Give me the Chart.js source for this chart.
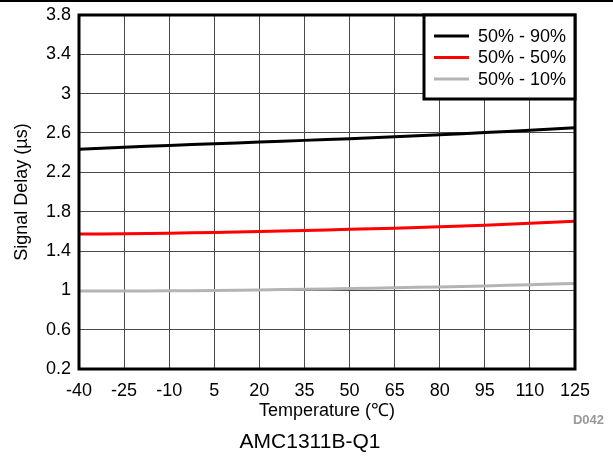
<!DOCTYPE html>
<html>
<head>
<meta charset="utf-8">
<script src="https://cdn.jsdelivr.net/npm/chart.js@4/dist/chart.umd.min.js"></script>
<style>
  html, body { margin: 0; padding: 0; background: #fff; }
  #wrap { width: 613px; height: 456px; }
</style>
</head>
<body>
<div id="wrap"><canvas id="delayChart" width="613" height="456"></canvas></div>
<script>
// data
const temperatures = [-40, -25, -10, 5, 20, 35, 50, 65, 80, 95, 110, 125];
const delay90 = [2.434, 2.455, 2.474, 2.491, 2.508, 2.525, 2.542, 2.562, 2.583, 2.604, 2.628, 2.654];
const delay50 = [1.572, 1.576, 1.581, 1.589, 1.598, 1.608, 1.62, 1.632, 1.646, 1.662, 1.682, 1.703];
const delay10 = [0.992, 0.993, 0.995, 0.999, 1.004, 1.011, 1.018, 1.026, 1.035, 1.045, 1.057, 1.07];
const seriesLabels = ['50% - 90%', '50% - 50%', '50% - 10%'];
const seriesColors = ['#000000', '#ff0000', '#b4b4b4'];
const xTicks = [-40, -25, -10, 5, 20, 35, 50, 65, 80, 95, 110, 125];
const yTicks = [0.2, 0.6, 1, 1.4, 1.8, 2.2, 2.6, 3, 3.4, 3.8];

const FONT = "'Liberation Sans', Arial, sans-serif";
Chart.defaults.font.family = FONT;
Chart.defaults.color = '#000';

const toPoints = (values) => temperatures.map((t, i) => ({ x: t, y: values[i] }));

// frame, inset legend and the loose texts
const framePlugin = {
  id: 'frame',
  beforeDraw: (chart) => {
    const { ctx, width, height } = chart;
    ctx.save();
    ctx.fillStyle = '#fff';
    ctx.fillRect(0, 0, width, height);
    ctx.restore();
  },
  afterDraw: (chart) => {
    const { ctx, width, chartArea: { left, top, right, bottom } } = chart;
    ctx.save();

    // top rule of the figure
    ctx.fillStyle = '#000';
    ctx.fillRect(0, 0, width, 2);

    // plot border
    ctx.strokeStyle = '#000';
    ctx.lineWidth = 3;
    ctx.strokeRect(left, top, right - left, bottom - top);

    // legend box in the top right corner
    const boxW = 151;
    const boxH = 84;
    const bx = right - boxW;
    ctx.fillStyle = '#fff';
    ctx.fillRect(bx, top, boxW, boxH);
    ctx.strokeRect(bx, top, boxW, boxH);

    ctx.font = `18px ${FONT}`;
    ctx.textBaseline = 'middle';
    ctx.textAlign = 'left';
    chart.data.datasets.forEach((ds, i) => {
      const y = top + 21 + i * 21.5;
      ctx.strokeStyle = ds.borderColor;
      ctx.lineWidth = 3;
      ctx.beginPath();
      ctx.moveTo(bx + 10, y);
      ctx.lineTo(bx + 45, y);
      ctx.stroke();
      ctx.fillStyle = '#000';
      ctx.fillText(ds.label, bx + 54, y + 1);
    });

    // caption and figure id
    ctx.textAlign = 'center';
    ctx.font = `21px ${FONT}`;
    ctx.fillText('AMC1311B-Q1', 310, 442);
    ctx.textAlign = 'right';
    ctx.font = `bold 13px ${FONT}`;
    ctx.fillStyle = '#999';
    ctx.fillText('D042', 604, 420);
    ctx.restore();
  },
};

const seriesData = [delay90, delay50, delay10];

new Chart('delayChart', {
  type: 'line',
  data: {
    datasets: seriesData.map((values, i) => ({
      label: seriesLabels[i],
      data: toPoints(values),
      borderColor: seriesColors[i],
      backgroundColor: seriesColors[i],
      borderWidth: 3,
      pointRadius: 0,
      tension: 0.3,
      fill: false,
    })),
  },
  options: {
    responsive: false,
    animation: false,
    layout: { padding: { top: 15, right: 38, left: 0, bottom: 0 } },
    plugins: {
      legend: { display: false },
      tooltip: { enabled: false },
    },
    scales: {
      x: {
        type: 'linear',
        min: -40,
        max: 125,
        afterBuildTicks: (scale) => {
          scale.ticks = xTicks.map((v) => ({ value: v }));
        },
        afterFit: (scale) => {
          scale.height = 87;
        },
        ticks: {
          font: { size: 18 },
          padding: 11,
          maxRotation: 0,
          autoSkip: false,
        },
        grid: { color: '#4a4a4a', lineWidth: 1, drawTicks: false },
        border: { display: false },
        title: {
          display: true,
          text: 'Temperature (℃)',
          font: { size: 18 },
          padding: { top: 0, bottom: 34 },
        },
      },
      y: {
        min: 0.2,
        max: 3.8,
        afterBuildTicks: (scale) => {
          scale.ticks = yTicks.map((v) => ({ value: v }));
        },
        afterFit: (scale) => {
          // fixed axis width, and let the layout padding alone set the top
          scale.width = 79;
          scale.paddingTop = 0;
          scale.paddingBottom = 0;
        },
        ticks: {
          font: { size: 18 },
          padding: 8,
          callback: (v) => `${+v.toFixed(1)}`,
        },
        grid: { color: '#4a4a4a', lineWidth: 1, drawTicks: false },
        border: { display: false },
        title: {
          display: true,
          text: 'Signal Delay (µs)',
          font: { size: 18 },
          padding: { top: 11, bottom: 0 },
        },
      },
    },
  },
  plugins: [framePlugin],
});
</script>
</body>
</html>
